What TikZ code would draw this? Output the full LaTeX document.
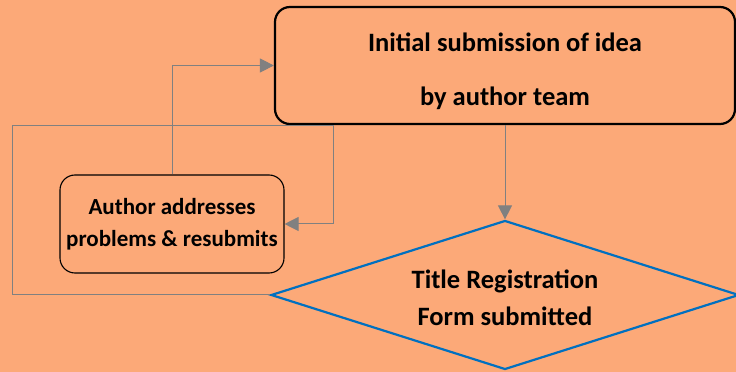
\documentclass[tikz,border=0pt]{standalone}
\usepackage{fontspec}
\setmainfont{Carlito}
\usetikzlibrary{shapes.geometric, arrows.meta, positioning, calc}
\definecolor{bgorange}{RGB}{252,169,120}
\definecolor{decblue}{RGB}{0,112,192}

\begin{document}
\begin{tikzpicture}[
    x=1pt, y=1pt,
    >={Triangle[length=14pt, width=14pt]},
    base/.style={draw, align=center, inner sep=0pt, font=\fontsize{26.5}{32}\selectfont\bfseries},
    process/.style={base, rectangle, rounded corners=15pt, draw=black, line width=2.2pt, minimum width=460pt, minimum height=117pt},
    retry/.style={base, rectangle, rounded corners=15pt, draw=black, line width=1.1pt, minimum width=224pt, minimum height=98pt, font=\fontsize{23}{28}\selectfont\bfseries},
    decision/.style={base, diamond, aspect=3.14, draw=decblue, line width=2.2pt, minimum width=468pt, minimum height=149pt},
    arrow/.style={->, line width=1pt, black!50}
  ]
    \fill[bgorange] (0,0) rectangle (736,372);
    \useasboundingbox (0,0) rectangle (736,372);
    \node[process] (init) at (505,306.5)
    {\rule{0pt}{31pt}Initial submission of idea\\[22pt]
     by author team};
    \node[retry] (fix) at (172,148)
    {Author addresses\\[4pt]
     problems \& resubmits};
    \node[decision] (form) at (505,77)
    {\rule{0pt}{25pt}Title Registration\\[5pt]
     Form submitted};
    \coordinate (loopl) at (12,246);
    \coordinate (loopr) at (333,246);
    \draw[arrow] (init) -- (form);
    \draw[arrow] (fix.north) |- (init.west);
    \draw[arrow] (form.west) -| (loopl) -- (loopr) |- (fix.east);
  \end{tikzpicture}
\end{document}
